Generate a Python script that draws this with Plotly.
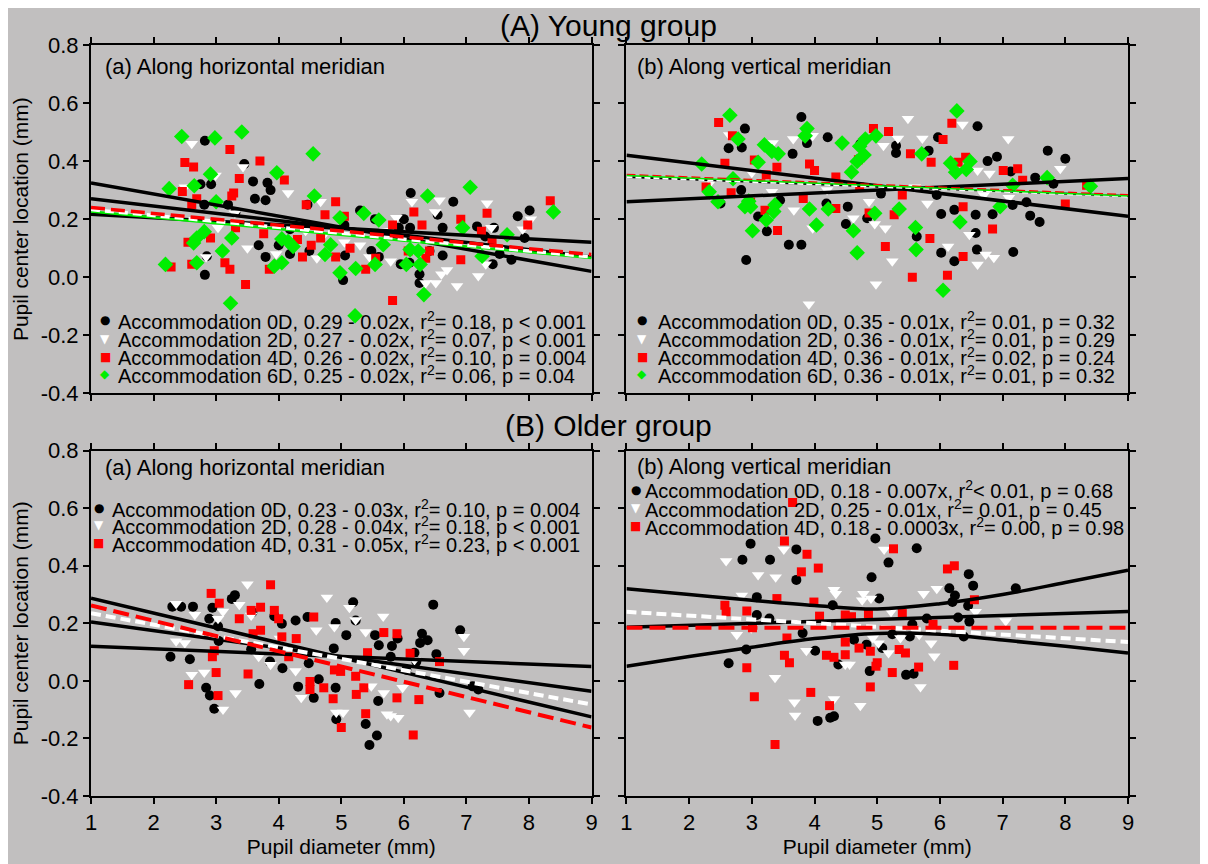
import plotly.graph_objects as go
from plotly.subplots import make_subplots

# ---------------- data ----------------
# Young group, horizontal meridian
yh_0d = [(2.82,0.47),(2.75,0.32),(2.92,0.32),(3.59,0.33),(3.45,0.39),(3.62,0.27),(3.79,0.265),(3.82,0.325),(3.87,0.30),(2.81,0.25),
         (3.19,0.25),(3.31,0.225),(4.18,0.165),(4.0,0.11),(3.68,0.11),(3.79,0.07),(4.18,0.08),(2.82,0.008),(2.85,0.072),(4.49,0.09),
         (4.46,0.25),(5.06,0.075),(5.3,0.23),(5.54,0.2),(5.03,-0.01),(6.11,0.29),(5.92,0.17),(6.0,0.2),(6.1,0.17),(5.95,0.045),
         (6.09,0.05),(6.25,0.01),(6.25,-0.02),(6.54,0.215),(6.62,0.17),(6.79,0.26),(6.62,0.075),(6.41,0.09),(7.17,0.175),(7.44,0.17),
         (7.3,0.14),(7.42,0.045),(7.53,0.08),(7.72,0.06),(7.82,0.21),(8.01,0.23),(7.93,0.135),(5.48,0.09),(5.6,0.07),(5.05,0.18)]
yh_2d = [(2.61,0.46),(2.5,0.31),(2.99,0.35),(3.43,0.38),(4.15,0.29),(4.67,0.26),(3.03,0.17),(2.84,0.07),(3.5,0.1),(3.96,0.08),
         (4.61,0.065),(5.3,0.11),(5.45,0.07),(5.79,0.055),(5.88,0.205),(6.13,0.26),(6.5,0.225),(6.57,0.265),(6.3,0.07),(6.35,-0.02),
         (6.51,-0.02),(6.6,0.01),(6.69,0.025),(6.85,-0.03),(7.19,0.004),(7.31,0.045),(7.33,0.255),(7.4,0.17),(7.9,0.165),(8.03,0.2),
         (5.05,0.12),(4.43,0.16),(3.3,0.22),(4.7,0.14),(5.7,0.16)]
yh_4d = [(3.22,0.44),(2.5,0.395),(2.64,0.38),(3.7,0.40),(3.37,0.34),(4.09,0.335),(2.46,0.295),(3.28,0.29),(3.25,0.28),(2.69,0.27),
         (2.61,0.25),(4.44,0.25),(4.91,0.26),(4.74,0.215),(5.05,0.21),(2.55,0.12),(2.91,0.135),(3.31,0.17),(3.76,0.15),(4.3,0.13),
         (3.14,0.05),(3.22,0.027),(3.47,-0.025),(2.28,0.035),(2.61,0.045),(3.85,0.027),(4.38,0.07),(4.52,0.11),(4.67,0.135),(4.91,0.07),
         (5.14,0.1),(5.39,0.027),(5.55,0.065),(5.82,0.18),(6.16,0.225),(6.29,0.18),(6.07,0.09),(6.35,0.065),(6.41,0.09),(5.82,-0.08),
         (6.91,0.2),(6.91,0.06),(7.33,0.22),(7.24,0.158),(7.41,0.123),(7.98,0.18),(8.34,0.263)]
yh_6d = [(2.45,0.485),(2.98,0.48),(3.41,0.5),(4.55,0.425),(3.97,0.36),(2.91,0.355),(2.25,0.305),(2.65,0.315),(4.57,0.28),(6.38,0.28),
         (7.06,0.31),(8.39,0.225),(3.0,0.26),(2.69,0.135),(2.81,0.157),(2.64,0.118),(3.1,0.09),(3.25,0.135),(4.05,0.132),(4.15,0.123),
         (4.23,0.106),(4.74,0.078),(4.83,0.112),(4.98,0.205),(5.36,0.22),(5.6,0.197),(5.67,0.112),(5.54,0.044),(5.23,0.03),(4.98,0.015),
         (4.05,0.05),(3.93,0.038),(2.69,0.05),(2.19,0.044),(3.23,-0.09),(5.22,-0.133),(6.32,-0.06),(6.26,0.044),(6.04,0.044),(6.1,0.095),
         (6.23,0.09),(6.94,0.17),(7.65,0.146),(7.25,0.072)]

# Young group, vertical meridian
yv_0d = [(3.79,0.552),(2.89,0.512),(2.63,0.444),(2.84,0.447),(4.21,0.482),(3.88,0.462),(3.65,0.425),(4.73,0.459),(5.3,0.453),(5.3,0.428),
         (5.97,0.482),(5.82,0.436),(6.6,0.52),(6.76,0.4),(6.91,0.415),(7.72,0.436),(8.0,0.408),(7.81,0.322),(7.13,0.364),(7.52,0.343),
         (7.38,0.258),(7.16,0.249),(7.44,0.212),(7.59,0.19),(7.17,0.087),(2.5,0.254),(2.83,0.3),(3.1,0.209),(3.24,0.158),(3.45,0.265),
         (3.59,0.112),(3.79,0.112),(2.91,0.059),(4.5,0.183),(4.53,0.243),(4.19,0.254),(5.06,0.288),(4.84,0.203),(5.63,0.14),(6.02,0.218),
         (6.02,0.084),(6.23,0.055),(6.23,0.232),(6.57,0.215),(6.57,0.152),(6.59,0.095),(6.84,0.217),(5.95,0.283)]
yv_2d = [(5.49,0.546),(6.36,0.526),(7.09,0.476),(5.33,0.478),(5.72,0.478),(5.1,0.453),(3.97,0.487),(3.66,0.476),(3.33,0.462),(2.64,0.49),
         (7.92,0.374),(6.6,0.368),(6.79,0.357),(3.32,0.294),(3.67,0.231),(3.97,0.169),(4.62,0.203),(4.96,0.183),(5.13,0.169),(4.87,0.26),
         (5.24,0.055),(4.98,-0.024),(3.91,-0.093),(6.13,0.106),(6.47,0.146),(6.6,0.044),(6.73,0.078),(6.86,0.067),(5.8,0.254),(6.7,0.283),
         (7.1,0.274),(2.35,0.33),(3.0,0.36),(4.2,0.3),(5.6,0.31)]
yv_4d = [(2.47,0.533),(2.69,0.487),(2.57,0.393),(3.04,0.404),(3.23,0.353),(3.4,0.379),(3.92,0.39),(4.0,0.368),(4.94,0.512),(5.18,0.502),
         (4.7,0.405),(5.53,0.425),(6.05,0.474),(6.19,0.53),(5.86,0.396),(6.29,0.396),(6.41,0.413),(7.01,0.368),(7.24,0.374),(7.32,0.334),
         (8.34,0.317),(2.27,0.311),(2.67,0.291),(2.98,0.258),(3.21,0.231),(3.41,0.161),(3.82,0.271),(4.34,0.345),(4.34,0.237),(4.72,0.311),
         (4.87,0.221),(5.27,0.215),(5.13,0.106),(5.4,0.283),(5.84,0.133),(5.56,0.0),(6.12,0.007),(6.37,0.071),(6.37,0.243),(6.84,0.166),
         (8.0,0.252)]
yv_6d = [(2.65,0.558),(6.27,0.573),(2.78,0.476),(3.2,0.456),(3.32,0.433),(3.42,0.425),(3.88,0.512),(3.85,0.487),(4.44,0.462),(4.72,0.451),
         (4.81,0.476),(4.98,0.487),(4.79,0.421),(5.71,0.425),(4.68,0.399),(6.17,0.393),(6.25,0.362),(6.42,0.371),(6.48,0.399),(7.71,0.343),
         (8.4,0.313),(2.2,0.39),(2.32,0.294),(2.46,0.26),(2.7,0.339),(2.95,0.262),(2.89,0.243),(2.98,0.243),(3.1,0.396),(3.37,0.249),
         (3.23,0.197),(3.01,0.16),(3.35,0.226),(3.92,0.235),(4.03,0.18),(4.22,0.235),(4.59,0.362),(4.62,0.16),(4.68,0.084),(4.96,0.22),
         (5.35,0.235),(5.61,0.171),(5.62,0.095),(6.05,-0.045),(6.32,0.19),(6.96,0.243),(7.16,0.317)]

# Older group, horizontal meridian
oh_0d = [(2.3,0.258),(2.44,0.258),(2.63,0.258),(2.94,0.254),(3.3,0.298),(3.25,0.285),(2.89,0.216),(3.03,0.19),(3.04,0.139),(2.27,0.084),
         (2.58,0.075),(2.84,-0.024),(2.9,-0.051),(2.97,-0.097),(3.58,0.239),(3.56,0.11),(3.69,-0.011),(3.86,0.067),(4.05,0.199),(4.06,0.044),
         (3.93,0.225),(4.27,0.21),(4.31,-0.02),(4.46,0.222),(4.48,0.061),(4.56,-0.059),(4.64,0.006),(4.88,0.113),(4.91,0.201),(4.91,-0.024),
         (4.92,-0.133),(5.08,0.159),(5.19,0.273),(5.23,0.21),(5.39,-0.15),(5.45,-0.223),(5.57,-0.19),(5.59,-0.07),(5.6,0.124),(5.54,0.159),
         (5.81,0.121),(5.79,0.084),(5.9,0.147),(6.04,0.039),(6.17,0.098),(6.2,0.067),(6.29,0.164),(6.26,0.132),(6.38,0.141),(6.47,0.265),
         (6.52,0.093),(6.57,-0.042),(6.9,0.176),(7.1,-0.019),(7.19,-0.03)]
oh_2d = [(2.36,0.138),(2.36,0.268),(2.66,0.23),(2.5,0.132),(2.61,0.021),(2.81,0.029),(3.11,0.241),(3.11,-0.099),(3.31,-0.042),(3.5,0.336),
         (3.37,0.265),(3.03,0.216),(3.56,0.227),(3.68,0.084),(3.87,0.056),(4.02,0.147),(4.27,0.034),(4.36,-0.059),(4.6,0.176),(4.77,0.29),
         (4.89,0.187),(4.92,-0.11),(5.03,-0.11),(5.13,0.254),(5.23,0.212),(5.39,0.17),(5.48,-0.019),(5.67,0.224),(5.68,-0.042),(5.73,-0.116),
         (5.79,-0.122),(5.91,-0.128),(5.98,-0.024),(6.17,0.073),(6.96,0.153),(6.96,0.105),(7.05,-0.11)]
oh_4d = [(2.92,0.304),(3.05,0.27),(3.87,0.334),(3.37,0.216),(3.56,0.245),(3.71,0.256),(3.93,0.245),(4.0,0.216),(3.71,0.176),(4.05,0.153),
         (4.28,0.147),(4.16,0.084),(2.97,0.105),(2.94,0.084),(3.0,0.029),(3.03,-0.051),(2.56,-0.013),(3.51,0.024),(3.59,0.164),(4.56,0.222),
         (4.5,-0.002),(4.5,-0.03),(4.72,-0.024),(4.87,-0.062),(4.89,0.038),(4.99,0.033),(5.0,-0.162),(5.23,0.016),(5.24,-0.047),(5.36,-0.024),
         (5.39,-0.114),(5.42,0.098),(5.68,0.168),(5.89,0.164),(5.89,-0.059),(6.1,0.096),(6.15,-0.188),(6.24,-0.065),(6.57,0.067)]

# Older group, vertical meridian
ov_0d = [(2.98,0.477),(2.85,0.421),(3.29,0.421),(3.71,0.457),(3.71,0.351),(4.97,0.495),(5.63,0.461),(5.18,0.411),(4.91,0.36),(5.03,0.286),
         (3.08,0.291),(3.08,0.229),(3.28,0.217),(2.91,0.109),(2.63,0.061),(4.29,0.263),(3.81,0.166),(4.01,0.105),(4.38,0.057),(4.63,0.143),
         (4.83,0.126),(4.88,0.034),(5.08,0.114),(5.24,0.162),(5.46,0.021),(5.58,0.025),(5.52,0.154),(5.79,0.217),(5.56,0.197),(6.15,0.322),
         (6.24,0.297),(6.2,0.274),(6.29,0.22),(6.46,0.371),(6.53,0.331),(6.45,0.261),(6.47,0.206),(6.38,0.154),(7.21,0.322),(4.05,-0.139),
         (4.25,-0.128),(4.31,-0.123)]
ov_2d = [(2.59,0.417),(3.1,0.368),(3.38,0.36),(3.51,0.457),(4.31,0.317),(4.34,0.303),(2.84,0.297),(2.76,0.16),(2.99,0.183),(3.87,0.105),
         (3.37,0.011),(3.68,-0.074),(3.69,-0.12),(4.31,-0.063),(4.73,-0.086),(4.56,0.057),(4.49,0.057),(4.78,0.303),(4.9,0.286),(4.76,0.28),
         (5.11,0.457),(5.22,0.24),(4.93,0.149),(5.02,0.131),(5.18,0.097),(5.37,0.149),(5.74,0.303),(5.95,0.32),(5.67,0.16),(5.86,0.131),
         (5.91,0.086),(5.69,-0.021),(6.57,0.24),(7.05,0.208)]
ov_4d = [(3.65,0.62),(3.52,0.486),(3.88,0.44),(3.79,0.379),(4.06,0.392),(5.26,0.459),(6.12,0.389),(6.23,0.4),(6.55,0.282),(2.57,0.263),
         (2.59,0.24),(2.92,0.243),(3.4,0.286),(3.01,0.185),(2.92,0.046),(3.04,-0.055),(3.37,-0.221),(3.56,0.149),(3.52,0.089),(3.6,0.063),
         (3.99,0.274),(4.08,0.225),(3.94,-0.04),(4.24,-0.086),(4.19,0.089),(4.31,0.082),(4.49,0.135),(4.49,0.091),(4.49,0.229),(4.59,0.223),
         (4.71,0.114),(4.86,0.234),(4.89,0.103),(4.89,-0.021),(4.98,0.051),(5.0,0.063),(5.24,0.029),(5.35,0.109),(5.45,0.097),(5.4,0.234),
         (5.66,0.048),(5.89,0.197),(6.22,0.054)]

# fitted lines / bands
line_x = [1, 9]
yh_lines = {"band_a": [0.325, 0.02], "band_b": [0.217, 0.12], "fit_0d": [0.27, 0.07],
            "fit_2d": [0.233, 0.07], "fit_4d": [0.24, 0.078], "fit_6d": [0.226, 0.066]}
yv_lines = {"band_a": [0.42, 0.21], "band_b": [0.26, 0.34], "fit_0d": [0.345, 0.28],
            "fit_2d": [0.345, 0.278], "fit_4d": [0.353, 0.283], "fit_6d": [0.35, 0.28]}
oh_lines = {"band_a": [0.287, -0.125], "band_b": [0.12, 0.05], "fit_0d": [0.205, -0.036],
            "fit_2d": [0.235, -0.082], "fit_4d": [0.262, -0.162]}
band_x = [1, 2, 3, 4, 5, 6, 7, 8, 9]
ov_band_hi = [0.32, 0.30, 0.28, 0.262, 0.25, 0.268, 0.30, 0.342, 0.385]
ov_band_lo = [0.051, 0.085, 0.117, 0.147, 0.165, 0.162, 0.142, 0.12, 0.097]
ov_lines = {"fit_0d": [0.186, 0.241], "fit_2d": [0.24, 0.135], "fit_4d": [0.185, 0.185]}

yticks = [-0.4, -0.2, 0.0, 0.2, 0.4, 0.6, 0.8]
yticktext = ["-0.4", "-0.2", "0.0", "0.2", "0.4", "0.6", "0.8"]
xticks = [1, 2, 3, 4, 5, 6, 7, 8, 9]

legend_yh = ["Accommodation 0D, 0.29 - 0.02x, r<sup>2</sup>= 0.18, p &lt; 0.001",
             "Accommodation 2D, 0.27 - 0.02x, r<sup>2</sup>= 0.07, p &lt; 0.001",
             "Accommodation 4D, 0.26 - 0.02x, r<sup>2</sup>= 0.10, p = 0.004",
             "Accommodation 6D, 0.25 - 0.02x, r<sup>2</sup>= 0.06, p = 0.04"]
legend_yv = ["Accommodation 0D, 0.35 - 0.01x, r<sup>2</sup>= 0.01, p = 0.32",
             "Accommodation 2D, 0.36 - 0.01x, r<sup>2</sup>= 0.01, p = 0.29",
             "Accommodation 4D, 0.36 - 0.01x, r<sup>2</sup>= 0.02, p = 0.24",
             "Accommodation 6D, 0.36 - 0.01x, r<sup>2</sup>= 0.01, p = 0.32"]
legend_oh = ["Accommodation 0D, 0.23 - 0.03x, r<sup>2</sup>= 0.10, p = 0.004",
             "Accommodation 2D, 0.28 - 0.04x, r<sup>2</sup>= 0.18, p &lt; 0.001",
             "Accommodation 4D, 0.31 - 0.05x, r<sup>2</sup>= 0.23, p &lt; 0.001"]
legend_ov = ["Accommodation 0D, 0.18 - 0.007x, r<sup>2</sup>&lt; 0.01, p = 0.68",
             "Accommodation 2D, 0.25 - 0.01x, r<sup>2</sup>= 0.01, p = 0.45",
             "Accommodation 4D, 0.18 - 0.0003x, r<sup>2</sup>= 0.00, p = 0.98"]

# ---------------- styling ----------------
BG = "#c1bfbf"
FONT = "Liberation Sans, Arial, sans-serif"
BLACK, WHITE, RED, GREEN = "#000000", "#ffffff", "#ff0000", "#00ee00"
series_style = {
    "0d": dict(symbol="circle", color=BLACK, size=10, glyph="\u25CF"),
    "2d": dict(symbol="triangle-down", color=WHITE, size=11, glyph="\u25BC"),
    "4d": dict(symbol="square", color=RED, size=9, glyph="\u25A0"),
    "6d": dict(symbol="diamond", color=GREEN, size=12, glyph="\u25C6"),
}

# page has an 8px body margin: figure sized so the frame lands where the reference has it
W, H = 1200, 856
ML, MR, MT, MB = 80, 80, 37, 60

fig = make_subplots(rows=2, cols=2)

def add_points(pts, key, row, col):
    st = series_style[key]
    fig.add_trace(go.Scatter(x=[p[0] for p in pts], y=[p[1] for p in pts], mode="markers",
                             marker=dict(symbol=st["symbol"], color=st["color"], size=st["size"],
                                         line=dict(width=0)),
                             showlegend=False, hoverinfo="skip"), row=row, col=col)

def add_line(xs, ys, row, col, color, width, dash="solid", shape="linear"):
    fig.add_trace(go.Scatter(x=xs, y=ys, mode="lines",
                             line=dict(color=color, width=width, dash=dash, shape=shape),
                             showlegend=False, hoverinfo="skip"), row=row, col=col)

# panel (A)(a)
for pts, k in [(yh_0d, "0d"), (yh_2d, "2d"), (yh_4d, "4d"), (yh_6d, "6d")]:
    add_points(pts, k, 1, 1)
add_line(line_x, yh_lines["band_a"], 1, 1, BLACK, 3.5)
add_line(line_x, yh_lines["band_b"], 1, 1, BLACK, 3.5)
add_line(line_x, yh_lines["fit_0d"], 1, 1, BLACK, 3.5)
add_line(line_x, yh_lines["fit_6d"], 1, 1, GREEN, 2.5)
add_line(line_x, yh_lines["fit_2d"], 1, 1, WHITE, 3.5, "9px,5px")
add_line(line_x, yh_lines["fit_4d"], 1, 1, RED, 3.5, "14px,6px")

# panel (A)(b)
for pts, k in [(yv_0d, "0d"), (yv_2d, "2d"), (yv_4d, "4d"), (yv_6d, "6d")]:
    add_points(pts, k, 1, 2)
add_line(line_x, yv_lines["band_a"], 1, 2, BLACK, 3.5)
add_line(line_x, yv_lines["band_b"], 1, 2, BLACK, 3.5)
add_line(line_x, yv_lines["fit_0d"], 1, 2, BLACK, 2)
add_line(line_x, yv_lines["fit_2d"], 1, 2, WHITE, 2, "6px,3px")
add_line(line_x, yv_lines["fit_4d"], 1, 2, RED, 2, "9px,4px")
add_line(line_x, yv_lines["fit_6d"], 1, 2, GREEN, 1.5)

# panel (B)(a)
for pts, k in [(oh_0d, "0d"), (oh_2d, "2d"), (oh_4d, "4d")]:
    add_points(pts, k, 2, 1)
add_line(line_x, oh_lines["band_a"], 2, 1, BLACK, 3.5)
add_line(line_x, oh_lines["band_b"], 2, 1, BLACK, 3.5)
add_line(line_x, oh_lines["fit_0d"], 2, 1, BLACK, 3.5)
add_line(line_x, oh_lines["fit_2d"], 2, 1, WHITE, 4, "10px,5px")
add_line(line_x, oh_lines["fit_4d"], 2, 1, RED, 4, "16px,7px")

# panel (B)(b)
for pts, k in [(ov_0d, "0d"), (ov_2d, "2d"), (ov_4d, "4d")]:
    add_points(pts, k, 2, 2)
add_line(band_x, ov_band_hi, 2, 2, BLACK, 3.5, shape="spline")
add_line(band_x, ov_band_lo, 2, 2, BLACK, 3.5, shape="spline")
add_line(line_x, ov_lines["fit_0d"], 2, 2, BLACK, 3.5)
add_line(line_x, ov_lines["fit_2d"], 2, 2, WHITE, 4, "10px,5px")
add_line(line_x, ov_lines["fit_4d"], 2, 2, RED, 4, "16px,7px")

# axes
axis_common = dict(showgrid=False, zeroline=False, showline=True, linecolor="black",
                   linewidth=2, mirror="allticks", ticks="outside", ticklen=6, tickwidth=2,
                   tickcolor="black", tickfont=dict(family=FONT, size=22, color="black"))
for r in (1, 2):
    for c in (1, 2):
        fig.update_xaxes(axis_common, row=r, col=c)
        fig.update_yaxes(axis_common, row=r, col=c)
        fig.update_xaxes(range=[1, 9], tickvals=xticks, ticktext=[str(v) for v in xticks],
                         showticklabels=(r == 2), row=r, col=c)
        fig.update_yaxes(range=[-0.4, 0.8], tickvals=yticks, ticktext=yticktext,
                         showticklabels=(c == 1), row=r, col=c)
title_font = dict(family=FONT, size=21, color="black")
for c in (1, 2):
    fig.update_xaxes(title_text="Pupil diameter (mm)", title_font=title_font, title_standoff=2, row=2, col=c)
for r in (1, 2):
    fig.update_yaxes(title_text="Pupil center location (mm)", title_font=title_font, title_standoff=6, row=r, col=1)

# frame positions (pixels in the reference, less the 8px page margin)
area_w = W - ML - MR
area_h = H - MT - MB
def xdom(a, b):
    return [(a - 8 - ML) / area_w, (b - 8 - ML) / area_w]
def ydom(top, bottom):
    return [1 - (bottom - 8 - MT) / area_h, 1 - (top - 8 - MT) / area_h]

fig.update_layout(
    xaxis=dict(domain=xdom(88, 590)), xaxis2=dict(domain=xdom(625, 1128)),
    xaxis3=dict(domain=xdom(88, 590)), xaxis4=dict(domain=xdom(625, 1128)),
    yaxis=dict(domain=ydom(45, 397)), yaxis2=dict(domain=ydom(45, 397)),
    yaxis3=dict(domain=ydom(455, 804)), yaxis4=dict(domain=ydom(455, 804)),
)

def px_x(px):
    return (px - 8 - ML) / area_w
def px_y(py):
    return 1 - (py - 8 - MT) / area_h

ann = []
txt_font = dict(family=FONT, size=20, color="black")
# group titles
ann.append(dict(text="(A) Young group", x=px_x(607), y=px_y(25), xref="paper", yref="paper",
                xanchor="center", yanchor="middle", showarrow=False,
                font=dict(family=FONT, size=30, color="black")))
ann.append(dict(text="(B) Older group", x=px_x(607), y=px_y(430), xref="paper", yref="paper",
                xanchor="center", yanchor="middle", showarrow=False,
                font=dict(family=FONT, size=30, color="black")))
# panel labels
panel_labels = [("(a) Along horizontal meridian", "x", "y", 1.19, 0.725),
                ("(b) Along vertical meridian", "x2", "y2", 1.13, 0.725),
                ("(a) Along horizontal meridian", "x3", "y3", 1.19, 0.742),
                ("(b) Along vertical meridian", "x4", "y4", 1.13, 0.745)]
for t, xr, yr, xv, yv in panel_labels:
    ann.append(dict(text=t, x=xv, y=yv, xref=xr, yref=yr, xanchor="left", yanchor="middle",
                    showarrow=False, font=dict(family=FONT, size=22, color="black")))

def add_legend(rows, keys, xr, yr, sym_x, txt_x, ys):
    for t, k, yv in zip(rows, keys, ys):
        st = series_style[k]
        ann.append(dict(text=st["glyph"], x=sym_x, y=yv, xref=xr, yref=yr, xanchor="center",
                        yanchor="middle", showarrow=False,
                        font=dict(family="DejaVu Sans", size=12, color=st["color"])))
        ann.append(dict(text=t, x=txt_x, y=yv, xref=xr, yref=yr, xanchor="left", yanchor="middle",
                        showarrow=False, font=txt_font))

add_legend(legend_yh, ["0d", "2d", "4d", "6d"], "x", "y", 1.23, 1.40, [-0.148, -0.2125, -0.274, -0.335])
add_legend(legend_yv, ["0d", "2d", "4d", "6d"], "x2", "y2", 1.25, 1.47, [-0.148, -0.2125, -0.274, -0.335])
add_legend(legend_oh, ["0d", "2d", "4d"], "x3", "y3", 1.12, 1.30, [0.600, 0.540, 0.479])
add_legend(legend_ov, ["0d", "2d", "4d"], "x4", "y4", 1.15, 1.27, [0.665, 0.600, 0.538])

fig.update_layout(annotations=ann, width=W, height=H,
                  margin=dict(l=ML, r=MR, t=MT, b=MB),
                  paper_bgcolor=BG, plot_bgcolor=BG, showlegend=False,
                  font=dict(family=FONT, color="black"))

fig.write_html("out.html")
